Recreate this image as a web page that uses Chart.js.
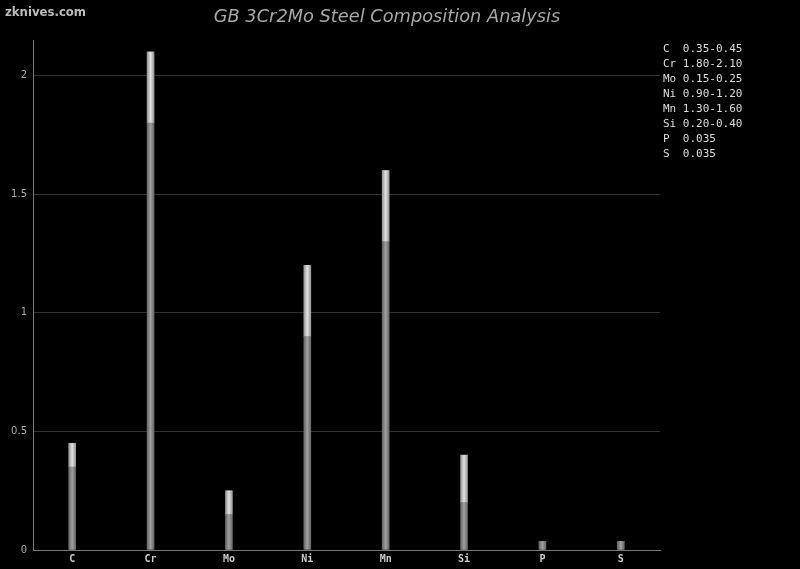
<!DOCTYPE html>
<html>
<head>
<meta charset="utf-8">
<script src="https://cdn.jsdelivr.net/npm/chart.js@4"></script>
<style>
  html, body { margin: 0; padding: 0; background: #000; }
  #wrap { position: relative; width: 800px; height: 569px; }
  #site { position: absolute; left: 5px; top: 4px; font: bold 13px "DejaVu Sans Condensed", "DejaVu Sans", sans-serif; color: #bbb; }
  #title { position: absolute; left: 187px; width: 400px; top: 5px; text-align: center; font: italic 17.8px "DejaVu Sans", sans-serif; color: #a8a8a8; }
  #ranges { position: absolute; left: 663px; top: 41px; margin: 0; font: 11px "DejaVu Sans Mono", monospace; line-height: 15px; color: #ddd; white-space: pre; }
</style>
</head>
<body>
<div id="wrap">
  <canvas id="chart" width="800" height="569"></canvas>
  <div id="site">zknives.com</div>
  <div id="title">GB 3Cr2Mo Steel Composition Analysis</div>
  <pre id="ranges"></pre>
</div>
<script>
// composition limits, % by weight
const elements = ['C', 'Cr', 'Mo', 'Ni', 'Mn', 'Si', 'P', 'S'];
const minVals = [0.35, 1.80, 0.15, 0.90, 1.30, 0.20, 0.035, 0.035];
const maxVals = [0.45, 2.10, 0.25, 1.20, 1.60, 0.40, 0.035, 0.035];
const yTicks = [0, 0.5, 1, 1.5, 2];

// range list on the right
document.getElementById('ranges').textContent = elements.map((el, i) => {
    const txt = minVals[i] === maxVals[i]
        ? String(minVals[i])
        : minVals[i].toFixed(2) + '-' + maxVals[i].toFixed(2);
    return el.padEnd(2, ' ') + ' ' + txt;
}).join('\n');

// shaded "rod" look: dark edges, light middle
const BAR_W = 7;
const shades = [
    ['#666666', '#a0a0a0'],
    ['#969696', '#e2e2e2']
];
function rodFill(which) {
    return ctx => {
        const chart = ctx.chart;
        const xs = chart.scales.x;
        const cx = xs && ctx.dataIndex !== undefined ? xs.getPixelForValue(ctx.dataIndex) : NaN;
        if (!isFinite(cx)) return shades[which][1];
        const g = chart.ctx.createLinearGradient(cx - BAR_W / 2, 0, cx + BAR_W / 2, 0);
        g.addColorStop(0, shades[which][0]);
        g.addColorStop(0.5, shades[which][1]);
        g.addColorStop(1, shades[which][0]);
        return g;
    };
}

new Chart(document.getElementById('chart'), {
    type: 'bar',
    data: {
        labels: elements,
        datasets: [
            { label: 'min', data: minVals, backgroundColor: rodFill(0) },
            { label: 'range', data: maxVals.map((v, i) => v - minVals[i]), backgroundColor: rodFill(1) }
        ]
    },
    options: {
        responsive: false,
        animation: false,
        events: [],
        barThickness: BAR_W,
        layout: { padding: { top: 40, right: 140, left: 0, bottom: 0 } },
        plugins: {
            legend: { display: false },
            title: { display: false },
            tooltip: { enabled: false }
        },
        scales: {
            x: {
                stacked: true,
                grid: { display: false, drawTicks: false },
                border: { color: '#777', width: 1 },
                ticks: { color: '#ccc', padding: 3, font: { family: 'DejaVu Sans Mono', size: 10, weight: 'bold' } },
                afterFit: s => { s.height = 19; }
            },
            y: {
                stacked: true,
                min: 0,
                max: 2.15,
                afterBuildTicks: s => { s.ticks = yTicks.map(v => ({ value: v })); },
                grid: { color: '#333', drawTicks: false },
                border: { color: '#777', width: 1 },
                ticks: { color: '#aaa', padding: 6, font: { family: 'DejaVu Sans', size: 10 }, callback: v => String(v) },
                afterFit: s => { s.width = 33; }
            }
        }
    }
});
</script>
</body>
</html>
